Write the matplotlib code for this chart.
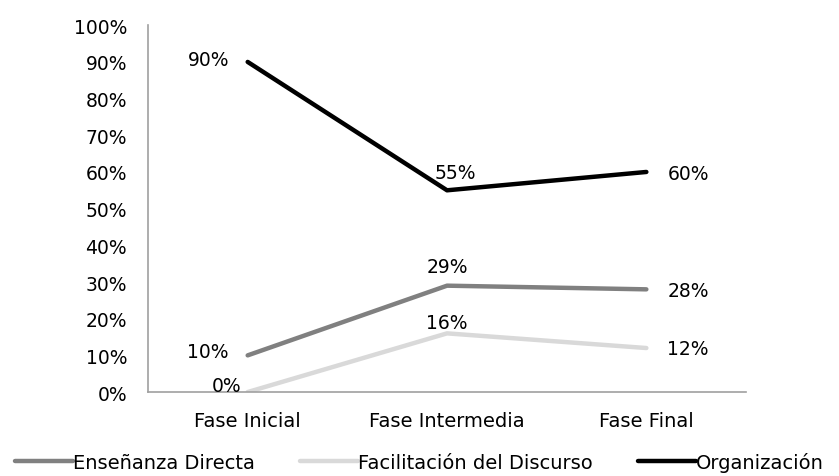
import matplotlib
matplotlib.use("Agg")
import matplotlib.pyplot as plt
from matplotlib.ticker import PercentFormatter

phases = ["Fase Inicial", "Fase Intermedia", "Fase Final"]
ensenanza = [10, 29, 28]
facilitacion = [0, 16, 12]
organizacion = [90, 55, 60]
series_names = ["Enseñanza Directa", "Facilitación del Discurso", "Organización"]
yticks = list(range(0, 101, 10))

plt.rcParams["font.family"] = ["DejaVu Sans"]
fs = 13.5
fs_cat = 14

fig = plt.figure(figsize=(8.39, 4.77), dpi=100)
ax = fig.add_axes([0.1764, 0.176, 0.7128, 0.769])

x = list(range(len(phases)))
colors = ["#808080", "#d9d9d9", "#000000"]
all_vals = [ensenanza, facilitacion, organizacion]
for name, vals, c in zip(series_names, all_vals, colors):
    ax.plot(x, vals, color=c, lw=3.2, solid_capstyle="round", label=name)

# value labels (offsets in points): left of first point, above middle, right of last
label_offsets = {
    0: [(-29, 3), (0, 14), (30, -1)],
    1: [(-15, 5), (0, 8), (30, 0)],
    2: [(-28, 2), (6, 13), (30, -1)],
}
for si, vals in enumerate(all_vals):
    for i, v in enumerate(vals):
        dx, dy = label_offsets[si][i]
        ax.annotate(f"{v}%", (i, v), xytext=(dx, dy), textcoords="offset points",
                    ha="center", va="center", fontsize=fs)

ax.set_xlim(-0.5, 2.5)
ax.set_ylim(0, 100)
ax.set_yticks(yticks)
ax.yaxis.set_major_formatter(PercentFormatter(decimals=0))
ax.set_xticks(x)
ax.set_xticklabels(phases)
ax.tick_params(length=0, labelsize=fs)
ax.tick_params(axis="x", pad=14, labelsize=fs_cat)
ax.tick_params(axis="y", pad=15)
for s in ["top", "right"]:
    ax.spines[s].set_visible(False)
for s in ["left", "bottom"]:
    ax.spines[s].set_color("#a0a0a0")
    ax.spines[s].set_linewidth(1.2)

fig.legend(loc="lower center", bbox_to_anchor=(0.5, -0.028), ncol=3, frameon=False,
           fontsize=fs_cat, handlelength=3.0, handletextpad=0.0, columnspacing=2.3)

fig.savefig("out.png", dpi=100)
